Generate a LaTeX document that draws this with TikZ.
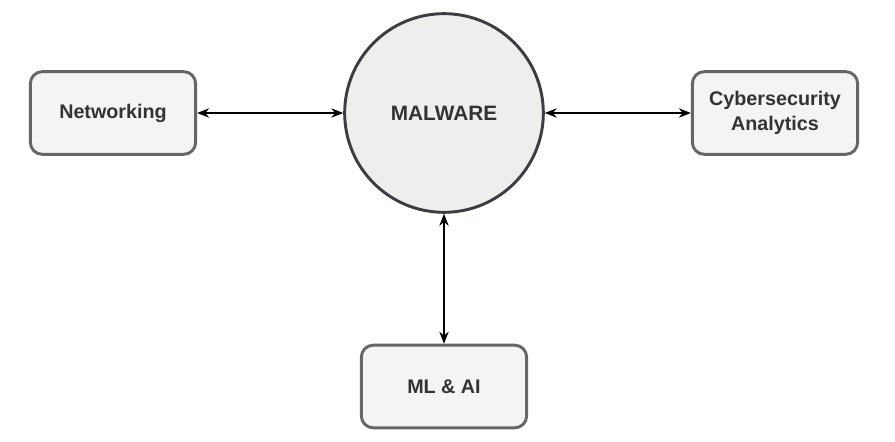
\documentclass[tikz,border=0pt]{standalone}
\usepackage{fontspec}
\setmainfont{Liberation Sans}
\usetikzlibrary{arrows.meta}
\definecolor{boxfill}{HTML}{F4F4F4}
\definecolor{boxline}{HTML}{666666}
\definecolor{circfill}{HTML}{EEEEEE}
\definecolor{circline}{HTML}{3A3D42}
\definecolor{txt}{HTML}{333333}
\begin{document}
\begin{tikzpicture}[x=0.75pt,y=-0.75pt,
  topic/.style={draw=boxline,fill=boxfill,line width=2.2pt,rounded corners=9pt,
    minimum width=124pt,minimum height=62pt,align=center,text=txt,
    font=\bfseries\fontsize{14.8}{19}\selectfont},
  hub/.style={draw=circline,fill=circfill,line width=2.2pt,circle,minimum size=149pt,
    text=txt,font=\bfseries\fontsize{15.6}{18}\selectfont},
  link/.style={line width=1.1pt,{Stealth[length=9pt,width=7pt]}-{Stealth[length=9pt,width=7pt]}}]
\useasboundingbox (0,0) rectangle (895,442);
% the centre
\node[hub] (malware) at (444,113) {MALWARE};
% the three boxes
\node[topic] (net) at (113,113) {Networking};
\node[topic] (cyber) at (775,113) {Cybersecurity\\Analytics};
\node[topic] (mlai) at (444,386.5) {ML \& AI};
% the links
\draw[link] (net) -- (malware);
\draw[link] (malware) -- (cyber);
\draw[link] (malware) -- (mlai);
\end{tikzpicture}
\end{document}
